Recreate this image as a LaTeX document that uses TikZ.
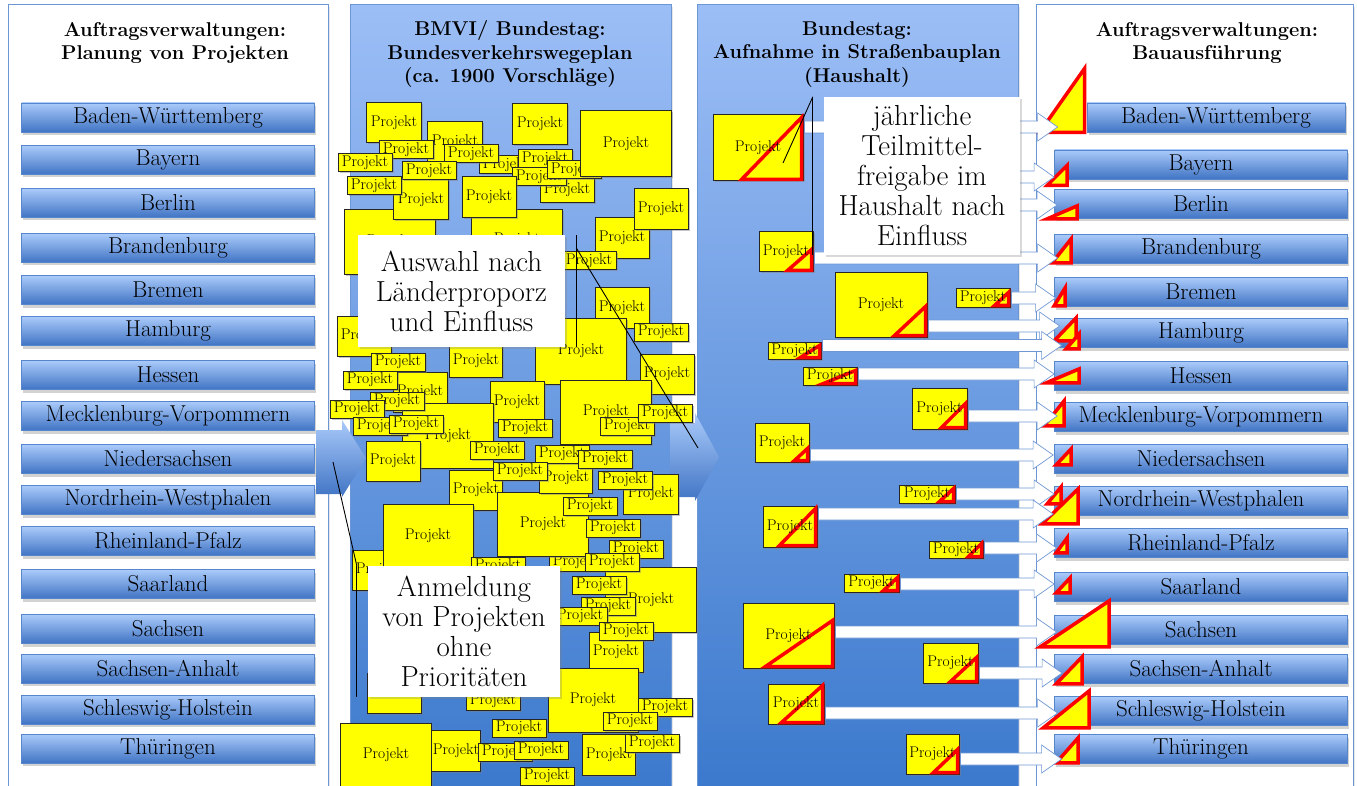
\documentclass[tikz,border=0pt]{standalone}
\usepackage{fontspec}
\usepackage{tikz}
\usetikzlibrary{shadows,calc}

\definecolor{paneltop}{RGB}{156,190,246}
\definecolor{panelbot}{RGB}{58,120,204}
\definecolor{paneledge}{RGB}{108,150,212}
\definecolor{bartop}{RGB}{170,202,250}
\definecolor{barbot}{RGB}{64,116,196}
\definecolor{barline}{RGB}{86,134,204}
\definecolor{arrowedge}{RGB}{112,152,212}
\definecolor{projyellow}{RGB}{255,255,0}

\newcommand\statefont{\fontsize{23}{26}\selectfont}
\newcommand\projfont{\fontsize{15.5}{17}\selectfont}
\newcommand\notefont{\fontsize{29}{30}\selectfont}
\newcommand\colheadfont{\fontsize{20}{23.5}\selectfont\bfseries}

\tikzset{
  whitepanel/.style={draw=paneledge, line width=1pt, fill=white, drop shadow={opacity=.2, shadow xshift=2pt, shadow yshift=-2pt}},
  bluepanel/.style={draw=paneledge, line width=1pt, top color=paneltop, bottom color=panelbot, drop shadow={opacity=.2, shadow xshift=2pt, shadow yshift=-2pt}},
  colhead/.style={align=center, font=\colheadfont, inner sep=0pt},
  state/.style={draw=barline, line width=.8pt, top color=bartop, bottom color=barbot, minimum height=29pt, inner sep=0pt, font=\statefont, drop shadow={opacity=.35, shadow xshift=1.5pt, shadow yshift=-3pt}},
  proj/.style={draw=black!85, line width=1pt, fill=projyellow, inner sep=0pt, font=\projfont, drop shadow={opacity=.45, shadow xshift=1.5pt, shadow yshift=-1.5pt}},
  projtext/.style={inner sep=0pt, font=\projfont},
  redtri/.style={draw=red, fill=projyellow, line width=3.5pt, line join=miter},
  fatarrow/.style={draw=arrowedge, fill=white, line width=.7pt, to path={let \p1=(\tikztostart), \p2=(\tikztotarget) in (\x1,\y1+6pt) -- (\x2-20pt,\y1+6pt) -- (\x2-20pt,\y1+14pt) -- (\x2,\y1) -- (\x2-20pt,\y1-14pt) -- (\x2-20pt,\y1-6pt) -- (\x1,\y1-6pt) -- cycle}},
  chevron/.style={top color=bartop, bottom color=barbot, draw=none},
  note/.style={fill=white, align=center, font=\notefont, inner sep=0pt, drop shadow={opacity=.3, shadow xshift=2pt, shadow yshift=-2pt}},
  callout/.style={draw=black, line width=.9pt},
}

\begin{document}
\begin{tikzpicture}[x=1pt, y=-1pt]
\useasboundingbox (0,0) rectangle (1357,786);

% four columns
\path[whitepanel] (8,5) rectangle (328,800);
\path[bluepanel] (350,5) rectangle (671,800);
\path[bluepanel] (697,5) rectangle (1018,800);
\path[whitepanel] (1036,5) rectangle (1353,800);

\node[colhead] (head1) at (175,43) {Auftragsverwaltungen:\\Planung von Projekten};
\node[colhead] (head2) at (510,54.5) {BMVI/ Bundestag:\\Bundesverkehrswegeplan\\(ca. 1900 Vorschläge)};
\node[colhead] (head3) at (857,54.5) {Bundestag:\\Aufnahme in Straßenbauplan\\(Haushalt)};
\node[colhead] (head4) at (1207,43) {Auftragsverwaltungen:\\Bauausführung};

\foreach \name/\y [count=\i] in {Baden-Württemberg/117.5, Bayern/160, Berlin/203, Brandenburg/248, Bremen/290, Hamburg/331, Hessen/375, Mecklenburg-Vorpommern/416, Niedersachsen/459, Nordrhein-Westphalen/500, Rheinland-Pfalz/541, Saarland/584, Sachsen/629, Sachsen-Anhalt/668.5, Schleswig-Holstein/709.5, Thüringen/748.5}
  \node[state, minimum width=293pt] (l\i) at (168,\y) {\name};

\foreach \name/\y/\x/\w [count=\i] in {Baden-Württemberg/117.5/1216/258, Bayern/164.5/1201/293, Berlin/204/1201/293, Brandenburg/249/1201/293, Bremen/292/1201/293, Hamburg/333/1201/293, Hessen/376/1201/293, Mecklenburg-Vorpommern/417/1201/293, Niedersachsen/459/1201/293, Nordrhein-Westphalen/501/1201/293, Rheinland-Pfalz/543/1201/293, Saarland/587/1201/293, Sachsen/630/1201/293, Sachsen-Anhalt/669/1201/293, Schleswig-Holstein/711/1201/293, Thüringen/749/1201/293}
  \node[state, minimum width=\w pt] (r\i) at (\x,\y) {\name};

\path[chevron] (316,430) -- (342,430) -- (342,420) -- (366,458) -- (342,497) -- (342,494) -- (316,494) -- cycle;
\path[chevron] (670,423) -- (695,423) -- (695,413) -- (719,457) -- (695,501) -- (695,497) -- (670,497) -- cycle;

% proposals
\node[proj, minimum width=54pt, minimum height=40pt] (p0) at (394,693) {};
\foreach \x/\y/\w/\h [count=\i] in {390/242/91/65, 517/240/91/60, 567/190/54/26, 364/336/54/40, 420/392/54/40, 379/570/54/40, 576/562/54/18, 455/142/55/40, 506/165/54/18, 545/159/54/18, 539/177/54/18, 574/170/54/18, 394/123/55/40, 540/124/55/41, 626/144/91/66, 421/200/55/40, 489/197/54/41, 622/238/54/41, 661/209/54/41, 622/308/54/40, 581/351/91/66, 476/361/53/33, 667/374/54/40, 606/412/91/64, 517/402/54/41, 448/436/91/65, 393/461/54/40, 476/490/53/40, 543/524/91/64, 428/536/90/64, 651/494/55/40, 566/478/53/31, 651/600/91/65, 616/652/54/40, 593/700/90/64, 609/755/53/41, 386/755/91/64, 456/751/49/41}
  \node[proj, minimum width=\w pt, minimum height=\h pt] (p\i) at (\x,\y) {Projekt};

\foreach \x/\y [count=\i] in {406/150, 365/163, 471/154, 429/171, 374/186, 589/261, 661/332, 398/362, 370/380, 397/401, 357/409, 380/426, 416/424, 497/450, 525/428, 627/426, 665/413, 562/454, 605/459, 520/471, 625/480, 590/506, 613/528, 636/549, 612/562, 498/566, 599/585, 608/606, 580/616, 626/631, 665/707, 630/721, 652/743, 493/701, 505/752, 519/728, 541/750, 547/776}
  \node[proj, minimum width=54pt, minimum height=18pt] (s\i) at (\x,\y) {Projekt};

% shares per Land
\foreach \i/\dx/\dy/\w/\h in {1/-2/0/45/64, 2/13/6/20/20, 3/23/0/30/13, 4/17/-1/19/24, 5/11/-1/11/18, 6/22/-7/22/23, 6/25/1/13/15, 7/25/-8/33/14, 8/10/-6/20/25, 9/17/-9/15/16, 10/7/-12/14/17, 10/24/8/36/35, 11/13/-5/11/15, 12/16/-9/14/15, 13/55/2/69/46, 14/28/0/26/27, 15/35/2/46/37, 16/24/-1/22/25}
  \draw[redtri] ([shift={(\dx,\dy)}]r\i.south west) -- ++(-\w,0) -- ++(\w,-\h) -- cycle;

\foreach \x/\y/\w/\h/\tw/\th [count=\i] in {758/148/90/66/60/62, 786/252/54/40/24/21, 983/298/54/18/14/13, 881/305/92/64/31/29, 794.5/350.5/53/17/19/12, 830/376/54/18/32/13, 939.5/408.5/55/41/24/24, 782/442.5/54/39/13/12, 927/494/56/18/14/13, 790/526.5/54/41/36/37, 956/549.5/54/17/13/13, 871.5/583/55/18/14/13, 788.5/635.5/91/65/67/46, 950.5/663/55/40/26/24, 796/704/56/40/41/37, 932.5/754/53/40/24/23}
{
  \node[proj, minimum width=\w pt, minimum height=\h pt] (h\i) at (\x,\y) {};
  \draw[redtri] ([shift={(-2,-2)}]h\i.south east) -- ++(-\tw,0) -- ++(\tw,-\th) -- cycle;
  \node[projtext] at (h\i.center) {Projekt};
}

\foreach \i/\dy/\t/\tx in {1/21/1/-29, 2/-6/4/3.5, 3/0/5/1.5, 4/-21/6/5.5, 5/5/6/7.5, 6/2/7/0, 7/-7.5/8/3, 8/-12.5/9/-1, 9/0/10/0, 10/12.5/10/-1, 11/1.5/11/2.5, 12/-1/12/0, 13/3.5/13/2.5, 14/-10/14/8, 15/-9/15/3.5, 16/-5/16/7.5}
  \draw[fatarrow] ([xshift=1pt, yshift=\dy pt]h\i.east) to ([xshift=\tx pt]r\t.west);

\coordinate (bayfrom) at (1000,177);
\coordinate (berfrom) at (1000,205);
\draw[fatarrow] (bayfrom) to (r2.west);
\draw[fatarrow] (berfrom) to ([xshift=3pt]r3.west);

\node[note, minimum width=207pt, minimum height=112pt] (t1) at (461.5,291) {Auswahl nach\\Länderproporz\\und Einfluss};
\node[note, minimum width=192pt, minimum height=131pt] (t2) at (464,631.5) {Anmeldung\\von Projekten\\ohne\\Prioritäten};
\node[note, minimum width=196pt, minimum height=158pt] (t3) at (922,176) {jährliche\\Teilmittel-\\freigabe im\\Haushalt nach\\Einfluss};

\coordinate (t1end) at (698,448);
\coordinate (t2end) at (333,462);
\coordinate (t3end) at (783,163);
\draw[callout] ([xshift=11pt]t1.north east) -- ([xshift=11pt]t1.south east);
\draw[callout] ([xshift=11pt,yshift=-13pt]t1.north east) -- (t1end);
\draw[callout] ([xshift=-11pt]t2.north west) -- ([xshift=-11pt]t2.south west);
\draw[callout] ([xshift=-11pt]t2.north west) -- (t2end);
\draw[callout] ([xshift=-11pt]t3.north west) -- ([xshift=-11pt]t3.south west);
\draw[callout] ([xshift=-11pt]t3.north west) -- (t3end);
\end{tikzpicture}
\end{document}
